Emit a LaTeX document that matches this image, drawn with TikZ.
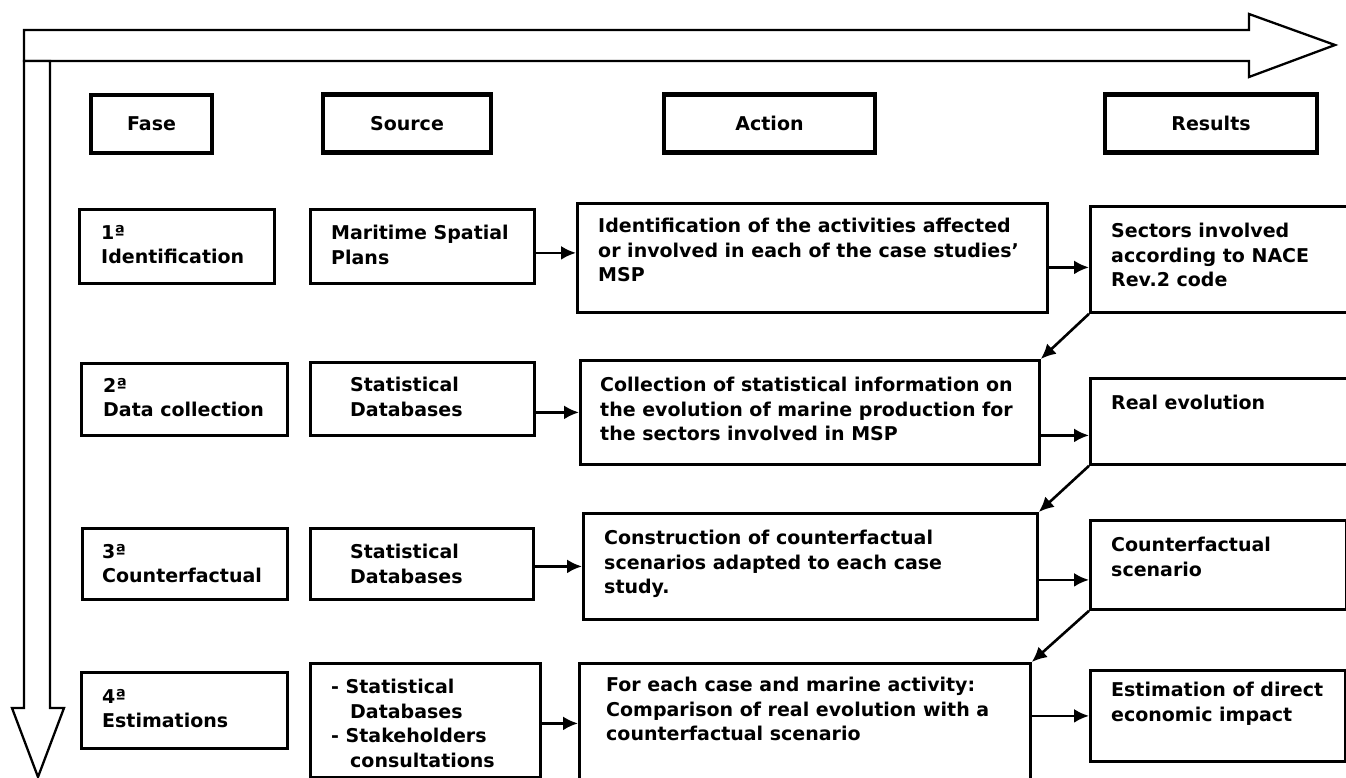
\documentclass[tikz,border=0pt]{standalone}
\usepackage{fontspec}
\setmainfont{DejaVu Sans}
\usepackage{tikz}
\usetikzlibrary{arrows.meta}

\tikzset{
  head/.style={draw, line width=4.5pt, inner sep=0pt, font=\bfseries\fontsize{19}{24}\selectfont},
  box/.style={draw, line width=2.8pt, inner sep=0pt, anchor=north west},
  txt/.style={anchor=north west, inner sep=0pt, align=left, font=\bfseries\fontsize{19}{24.5}\selectfont},
  arr/.style={line width=2.6pt, -{Latex[length=15pt,width=14pt]}},
  bigarrow/.style={draw, line width=2.3pt, fill=white, line join=miter},
}

\begin{document}
\begin{tikzpicture}[x=1pt, y=-1pt]

\useasboundingbox (0,0) rectangle (1346,778);

% time and phase arrows

\draw[bigarrow] (24,30) -- (1249,30) -- (1249,14) -- (1335,45) -- (1249,77) -- (1249,61) -- (24,61) -- cycle;
\draw[bigarrow] (24,61) -- (50,61) -- (50,708) -- (64,708) -- (38,777) -- (12,708) -- (24,708) -- cycle;

% define nodes

% headers

\node[head, minimum width=121pt, minimum height=58pt] (hfase) at (151.5,124) {Fase};
\node[head, minimum width=168pt, minimum height=58pt] (hsource) at (407,123.5) {Source};
\node[head, minimum width=211pt, minimum height=58pt] (haction) at (769.5,123.5) {Action};
\node[head, minimum width=212pt, minimum height=58pt] (hresults) at (1211,123.5) {Results};

% row 1

\node[box, minimum width=195pt, minimum height=74pt] (f1) at (78,208) {};
\node[box, minimum width=224pt, minimum height=74pt] (s1) at (309,208) {};
\node[box, minimum width=470pt, minimum height=109pt] (a1) at (576,202) {};
\node[box, minimum width=270pt, minimum height=106pt] (r1) at (1089,205) {};

\node[txt] (f1t) at ([shift={(23,17)}]f1.north west) {1ª\\Identification};
\node[txt] (s1t) at ([shift={(22,17)}]s1.north west) {Maritime Spatial\\Plans};
\node[txt] (a1t) at ([shift={(22,16)}]a1.north west) {Identification of the activities affected\\or involved in each of the case studies’\\MSP};
\node[txt] (r1t) at ([shift={(22,18)}]r1.north west) {Sectors involved\\according to NACE\\Rev.2 code};

% row 2

\node[box, minimum width=206pt, minimum height=72pt] (f2) at (80,362) {};
\node[box, minimum width=224pt, minimum height=73pt] (s2) at (309,361) {};
\node[box, minimum width=459pt, minimum height=104pt] (a2) at (579,359) {};
\node[box, minimum width=270pt, minimum height=86pt] (r2) at (1089,377) {};

\node[txt] (f2t) at ([shift={(23,16)}]f2.north west) {2ª\\Data collection};
\node[txt] (s2t) at ([shift={(41,16)}]s2.north west) {Statistical\\Databases};
\node[txt] (a2t) at ([shift={(21,18)}]a2.north west) {Collection of statistical information on\\the evolution of marine production for\\the sectors involved in MSP};
\node[txt] (r2t) at ([shift={(22,18)}]r2.north west) {Real evolution};

% row 3

\node[box, minimum width=205pt, minimum height=71pt] (f3) at (81,527) {};
\node[box, minimum width=223pt, minimum height=71pt] (s3) at (309,527) {};
\node[box, minimum width=454pt, minimum height=106pt] (a3) at (582,512) {};
\node[box, minimum width=256pt, minimum height=89pt] (r3) at (1089,519) {};

\node[txt] (f3t) at ([shift={(21,17)}]f3.north west) {3ª\\Counterfactual};
\node[txt] (s3t) at ([shift={(41,17)}]s3.north west) {Statistical\\Databases};
\node[txt] (a3t) at ([shift={(22,18)}]a3.north west) {Construction of counterfactual\\scenarios adapted to each case\\study.};
\node[txt] (r3t) at ([shift={(22,18)}]r3.north west) {Counterfactual\\scenario};

% row 4

\node[box, minimum width=206pt, minimum height=76pt] (f4) at (80,671) {};
\node[box, minimum width=230pt, minimum height=114pt] (s4) at (309,662) {};
\node[box, minimum width=451pt, minimum height=120pt] (a4) at (578,662) {};
\node[box, minimum width=255pt, minimum height=91pt] (r4) at (1089,669) {};

\node[txt] (f4t) at ([shift={(22,18)}]f4.north west) {4ª\\Estimations};
\node[txt] (s4t) at ([shift={(22,17)}]s4.north west) {- Statistical\\\hspace*{19pt}Databases\\- Stakeholders\\\hspace*{19pt}consultations};
\node[txt] (a4t) at ([shift={(28,15)}]a4.north west) {For each case and marine activity:\\Comparison of real evolution with a\\counterfactual scenario};
\node[txt] (r4t) at ([shift={(22,13)}]r4.north west) {Estimation of direct\\economic impact};

% edges

\coordinate (a1in) at ([yshift=5pt]a1.west);
\coordinate (r1in) at ([yshift=-8pt]r1.west);
\coordinate (r2in) at ([yshift=-14pt]r2.west);
\coordinate (r3in) at ([yshift=-15pt]r3.west);

\draw[arr] (s1.east |- a1in) -- (a1in);
\draw[arr] (s2.east |- a2.west) -- (a2.west);
\draw[arr] (s3.east |- a3.west) -- (a3.west);
\draw[arr] (s4.east |- a4.west) -- (a4.west);

\draw[arr] (a1.east |- r1in) -- (r1in);
\draw[arr] (a2.east |- r2in) -- (r2in);
\draw[arr] (a3.east |- r3in) -- (r3in);
\draw[arr] (a4.east |- r4.west) -- (r4.west);

\draw[arr] (r1.south west) -- (a2.north east);
\draw[arr] (r2.south west) -- (a3.north east);
\draw[arr] (r3.south west) -- (a4.north east);

\end{tikzpicture}
\end{document}
